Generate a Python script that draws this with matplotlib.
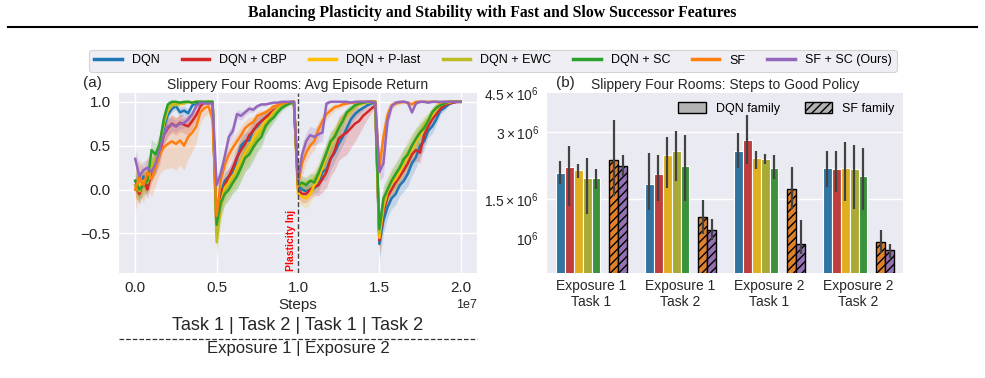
import numpy as np
import matplotlib
matplotlib.use("Agg")
import matplotlib.pyplot as plt
from matplotlib.lines import Line2D
from matplotlib.patches import Patch

plt.rcParams['font.family'] = ['Liberation Sans', 'DejaVu Sans']
plt.rcParams['mathtext.fontset'] = 'custom'
plt.rcParams['mathtext.rm'] = 'Liberation Sans'
plt.rcParams['mathtext.it'] = 'Liberation Sans:italic'
plt.rcParams['hatch.linewidth'] = 1.0

# ---- data ----
methods = ["DQN", "DQN + CBP", "DQN + P-last", "DQN + EWC", "DQN + SC", "SF", "SF + SC (Ours)"]
line_colors = ["#1f77b4", "#d62728", "#ffbf00", "#bcbd22", "#2ca02c", "#ff7f0e", "#9467bd"]
bar_colors = ["#3274a1", "#c03d3e", "#dfaf20", "#a9aa35", "#3a923a", "#e1812c", "#9372b2"]

# training steps (one sample every 0.25M steps)
steps = np.linspace(0, 2e7, 81)

# average episode return (mean over seeds)
ret_dqn = [0.10, 0.00, 0.15, 0.05, 0.25, 0.30, 0.45, 0.70, 0.85, 0.92, 0.95, 0.88, 0.90, 0.87, 0.96, 0.98, 1.00, 0.99, 0.99, 1.00,
           -0.45, -0.05, 0.10, 0.15, 0.20, 0.35, 0.50, 0.55, 0.56, 0.68, 0.72, 0.78, 0.82, 0.86, 0.90, 0.93, 0.95, 0.97, 0.99, 1.00,
           0.05, 0.00, -0.02, 0.00, 0.02, 0.05, 0.20, 0.23, 0.35, 0.42, 0.52, 0.60, 0.70, 0.80, 0.86, 0.90, 0.93, 0.96, 0.98, 0.99,
           -0.62, -0.35, -0.20, -0.10, -0.05, 0.05, 0.10, 0.18, 0.30, 0.37, 0.50, 0.55, 0.67, 0.72, 0.80, 0.90, 0.93, 0.97, 0.99, 1.00,
           1.00]
ret_cbp = [0.05, -0.05, 0.10, 0.00, 0.20, 0.30, 0.40, 0.62, 0.70, 0.75, 0.72, 0.76, 0.74, 0.72, 0.78, 0.85, 0.95, 0.99, 0.99, 0.99,
           -0.50, -0.10, 0.05, 0.15, 0.25, 0.37, 0.45, 0.52, 0.62, 0.67, 0.74, 0.78, 0.82, 0.86, 0.90, 0.93, 0.95, 0.98, 0.99, 1.00,
           0.00, -0.05, -0.05, 0.00, 0.03, 0.05, 0.12, 0.20, 0.35, 0.44, 0.58, 0.62, 0.65, 0.70, 0.75, 0.78, 0.84, 0.88, 0.92, 0.96,
           -0.58, -0.25, -0.08, 0.00, 0.08, 0.15, 0.22, 0.30, 0.40, 0.45, 0.42, 0.62, 0.72, 0.80, 0.86, 0.92, 0.96, 0.98, 0.99, 1.00,
           1.00]
ret_plast = [0.00, 0.05, 0.10, 0.08, 0.25, 0.35, 0.48, 0.75, 0.90, 0.96, 0.98, 0.97, 0.99, 1.00, 0.99, 1.00, 1.00, 0.99, 1.00, 1.00,
             -0.50, -0.15, 0.02, 0.08, 0.15, 0.25, 0.32, 0.42, 0.48, 0.58, 0.65, 0.70, 0.78, 0.82, 0.88, 0.93, 0.95, 0.97, 0.99, 1.00,
             -0.05, -0.08, -0.10, -0.05, 0.05, 0.12, 0.25, 0.40, 0.50, 0.62, 0.70, 0.78, 0.85, 0.90, 0.95, 0.97, 0.98, 0.99, 1.00, 1.00,
             -0.55, -0.20, -0.02, 0.08, 0.12, 0.20, 0.30, 0.38, 0.46, 0.55, 0.62, 0.70, 0.78, 0.85, 0.92, 0.96, 0.98, 0.99, 1.00, 1.00,
             1.00]
ret_ewc = [0.05, -0.02, 0.08, 0.10, 0.28, 0.35, 0.50, 0.78, 0.92, 0.97, 0.96, 0.99, 0.98, 1.00, 0.99, 1.00, 1.00, 0.99, 1.00, 0.99,
           -0.60, -0.20, -0.02, 0.05, 0.12, 0.20, 0.28, 0.38, 0.45, 0.52, 0.60, 0.66, 0.74, 0.80, 0.86, 0.92, 0.95, 0.97, 0.99, 0.99,
           0.05, 0.05, 0.08, 0.10, 0.12, 0.20, 0.30, 0.42, 0.52, 0.62, 0.70, 0.80, 0.86, 0.90, 0.95, 0.97, 0.99, 0.99, 1.00, 1.00,
           -0.50, -0.15, 0.00, 0.10, 0.15, 0.25, 0.32, 0.42, 0.50, 0.58, 0.66, 0.74, 0.80, 0.88, 0.94, 0.97, 0.98, 1.00, 1.00, 1.00,
           1.00]
ret_sc = [0.10, 0.00, 0.05, 0.10, 0.45, 0.40, 0.52, 0.80, 0.97, 1.00, 1.00, 0.99, 1.00, 1.00, 0.99, 1.00, 1.00, 1.00, 1.00, 1.00,
          -0.40, -0.15, -0.05, 0.00, 0.08, 0.15, 0.25, 0.36, 0.40, 0.48, 0.55, 0.60, 0.72, 0.78, 0.82, 0.88, 0.93, 0.96, 0.98, 0.99,
          0.05, 0.08, 0.05, 0.10, 0.08, 0.18, 0.30, 0.42, 0.55, 0.60, 0.70, 0.78, 0.88, 0.92, 0.96, 0.98, 0.99, 1.00, 1.00, 1.00,
          -0.45, -0.10, 0.00, 0.10, 0.18, 0.25, 0.35, 0.40, 0.50, 0.58, 0.65, 0.70, 0.78, 0.88, 0.93, 0.96, 0.98, 1.00, 1.00, 1.00,
          1.00]
ret_sf = [0.00, 0.15, 0.05, 0.20, 0.12, 0.25, 0.40, 0.48, 0.52, 0.55, 0.52, 0.56, 0.50, 0.60, 0.65, 0.72, 0.88, 0.93, 0.95, 0.80,
          -0.30, 0.10, 0.28, 0.40, 0.48, 0.55, 0.62, 0.70, 0.74, 0.77, 0.84, 0.86, 0.88, 0.91, 0.95, 0.96, 0.98, 0.99, 1.00, 1.00,
          0.05, 0.30, 0.42, 0.50, 0.55, 0.68, 0.78, 0.86, 0.90, 0.94, 0.95, 0.97, 0.98, 0.99, 0.99, 1.00, 1.00, 1.00, 1.00, 1.00,
          0.25, 0.60, 0.85, 0.96, 0.98, 0.99, 1.00, 0.99, 0.97, 1.00, 1.00, 1.00, 1.00, 1.00, 1.00, 0.99, 1.00, 1.00, 1.00, 1.00,
          1.00]
ret_sfsc = [0.35, 0.15, 0.22, 0.25, 0.20, 0.30, 0.45, 0.62, 0.72, 0.74, 0.72, 0.75, 0.76, 0.80, 0.86, 0.95, 0.99, 0.98, 0.98, 0.98,
            0.05, 0.18, 0.38, 0.60, 0.67, 0.86, 0.84, 0.88, 0.92, 0.91, 0.95, 0.97, 0.97, 0.98, 0.99, 0.99, 1.00, 1.00, 1.00, 1.00,
            0.10, 0.40, 0.55, 0.62, 0.60, 0.63, 0.65, 0.98, 1.00, 1.00, 1.00, 1.00, 1.00, 0.99, 1.00, 1.00, 1.00, 1.00, 1.00, 0.99,
            0.20, 0.30, 0.78, 0.95, 0.99, 1.00, 1.00, 0.99, 0.88, 0.98, 1.00, 1.00, 0.99, 1.00, 1.00, 1.00, 1.00, 1.00, 1.00, 1.00,
            1.00]

# spread over seeds
std_dqn = [0.12, 0.10, 0.12, 0.10, 0.12, 0.12, 0.10, 0.10, 0.06, 0.04, 0.04, 0.06, 0.05, 0.05, 0.03, 0.02, 0.01, 0.01, 0.01, 0.01,
           0.15, 0.12, 0.10, 0.10, 0.12, 0.12, 0.12, 0.10, 0.10, 0.10, 0.10, 0.08, 0.08, 0.06, 0.05, 0.04, 0.03, 0.02, 0.01, 0.01,
           0.08, 0.06, 0.06, 0.06, 0.06, 0.08, 0.10, 0.12, 0.12, 0.10, 0.10, 0.10, 0.08, 0.06, 0.05, 0.04, 0.03, 0.02, 0.01, 0.01,
           0.20, 0.15, 0.12, 0.12, 0.12, 0.12, 0.12, 0.14, 0.14, 0.12, 0.12, 0.10, 0.08, 0.08, 0.06, 0.05, 0.03, 0.02, 0.01, 0.01,
           0.01]
std_cbp = [0.12, 0.12, 0.10, 0.10, 0.12, 0.12, 0.12, 0.12, 0.10, 0.10, 0.10, 0.10, 0.10, 0.10, 0.08, 0.06, 0.03, 0.01, 0.01, 0.01,
           0.15, 0.12, 0.12, 0.10, 0.12, 0.12, 0.12, 0.12, 0.10, 0.10, 0.10, 0.08, 0.06, 0.05, 0.04, 0.03, 0.02, 0.02, 0.01, 0.01,
           0.10, 0.10, 0.10, 0.10, 0.10, 0.12, 0.15, 0.18, 0.20, 0.22, 0.25, 0.25, 0.25, 0.22, 0.20, 0.15, 0.12, 0.08, 0.05, 0.03,
           0.15, 0.12, 0.10, 0.10, 0.10, 0.12, 0.12, 0.12, 0.12, 0.12, 0.12, 0.10, 0.08, 0.06, 0.05, 0.04, 0.03, 0.02, 0.01, 0.01,
           0.01]
std_plast = [0.12, 0.12, 0.12, 0.10, 0.12, 0.12, 0.12, 0.10, 0.06, 0.03, 0.02, 0.02, 0.01, 0.01, 0.01, 0.01, 0.01, 0.01, 0.01, 0.01,
             0.18, 0.15, 0.15, 0.12, 0.15, 0.15, 0.15, 0.15, 0.15, 0.12, 0.12, 0.10, 0.10, 0.08, 0.06, 0.05, 0.03, 0.02, 0.01, 0.01,
             0.10, 0.10, 0.12, 0.10, 0.10, 0.10, 0.12, 0.12, 0.12, 0.12, 0.10, 0.08, 0.06, 0.05, 0.04, 0.03, 0.02, 0.01, 0.01, 0.01,
             0.18, 0.15, 0.12, 0.12, 0.12, 0.12, 0.12, 0.12, 0.12, 0.12, 0.10, 0.10, 0.08, 0.06, 0.05, 0.03, 0.02, 0.01, 0.01, 0.01,
             0.01]
std_ewc = [0.12, 0.15, 0.12, 0.12, 0.12, 0.12, 0.12, 0.10, 0.05, 0.03, 0.03, 0.02, 0.02, 0.01, 0.01, 0.01, 0.01, 0.01, 0.01, 0.01,
           0.20, 0.18, 0.15, 0.15, 0.15, 0.18, 0.18, 0.18, 0.18, 0.16, 0.15, 0.12, 0.10, 0.08, 0.06, 0.05, 0.04, 0.03, 0.02, 0.01,
           0.08, 0.08, 0.08, 0.08, 0.10, 0.10, 0.12, 0.12, 0.12, 0.10, 0.10, 0.08, 0.06, 0.05, 0.04, 0.03, 0.02, 0.01, 0.01, 0.01,
           0.18, 0.15, 0.15, 0.15, 0.15, 0.15, 0.15, 0.15, 0.14, 0.12, 0.12, 0.10, 0.08, 0.06, 0.05, 0.03, 0.02, 0.01, 0.01, 0.01,
           0.01]
std_sc = [0.12, 0.12, 0.12, 0.12, 0.12, 0.12, 0.12, 0.10, 0.04, 0.02, 0.01, 0.01, 0.01, 0.01, 0.01, 0.01, 0.01, 0.01, 0.01, 0.01,
          0.18, 0.15, 0.12, 0.12, 0.12, 0.15, 0.15, 0.15, 0.15, 0.15, 0.12, 0.12, 0.10, 0.08, 0.06, 0.05, 0.04, 0.03, 0.02, 0.01,
          0.08, 0.08, 0.08, 0.08, 0.10, 0.10, 0.12, 0.12, 0.12, 0.10, 0.10, 0.08, 0.06, 0.05, 0.04, 0.03, 0.02, 0.01, 0.01, 0.01,
          0.18, 0.15, 0.12, 0.12, 0.12, 0.12, 0.12, 0.12, 0.12, 0.12, 0.10, 0.10, 0.08, 0.06, 0.05, 0.03, 0.02, 0.01, 0.01, 0.01,
          0.01]
std_sf = [0.25, 0.20, 0.20, 0.18, 0.20, 0.20, 0.22, 0.25, 0.28, 0.30, 0.30, 0.28, 0.28, 0.25, 0.22, 0.18, 0.12, 0.10, 0.08, 0.12,
          0.15, 0.12, 0.10, 0.10, 0.10, 0.10, 0.10, 0.08, 0.08, 0.06, 0.05, 0.04, 0.03, 0.03, 0.02, 0.02, 0.01, 0.01, 0.01, 0.01,
          0.12, 0.15, 0.12, 0.10, 0.10, 0.10, 0.08, 0.06, 0.05, 0.04, 0.03, 0.03, 0.02, 0.02, 0.01, 0.01, 0.01, 0.01, 0.01, 0.01,
          0.15, 0.15, 0.10, 0.05, 0.03, 0.02, 0.02, 0.02, 0.03, 0.02, 0.01, 0.01, 0.01, 0.01, 0.01, 0.01, 0.01, 0.01, 0.01, 0.01,
          0.01]
std_sfsc = [0.12, 0.12, 0.10, 0.10, 0.10, 0.10, 0.10, 0.10, 0.10, 0.08, 0.06, 0.06, 0.06, 0.05, 0.04, 0.03, 0.02, 0.01, 0.01, 0.01,
            0.10, 0.10, 0.08, 0.08, 0.06, 0.05, 0.05, 0.04, 0.04, 0.03, 0.02, 0.02, 0.02, 0.01, 0.01, 0.01, 0.01, 0.01, 0.01, 0.01,
            0.08, 0.12, 0.10, 0.10, 0.10, 0.10, 0.10, 0.03, 0.01, 0.01, 0.01, 0.01, 0.01, 0.01, 0.01, 0.01, 0.01, 0.01, 0.01, 0.01,
            0.10, 0.15, 0.10, 0.04, 0.02, 0.01, 0.01, 0.01, 0.03, 0.01, 0.01, 0.01, 0.01, 0.01, 0.01, 0.01, 0.01, 0.01, 0.01, 0.01,
            0.01]

# steps to good policy, per task exposure (rows: method order above)
groups = ["Exposure 1\nTask 1", "Exposure 1\nTask 2", "Exposure 2\nTask 1", "Exposure 2\nTask 2"]
steps_mean = [[1.97e6, 1.75e6, 2.48e6, 2.07e6],
              [2.10e6, 1.95e6, 2.78e6, 2.05e6],
              [2.02e6, 2.36e6, 2.30e6, 2.07e6],
              [1.86e6, 2.48e6, 2.28e6, 2.05e6],
              [1.86e6, 2.12e6, 2.07e6, 1.91e6],
              [2.26e6, 1.25e6, 1.67e6, 0.96e6],
              [2.12e6, 1.09e6, 0.945e6, 0.885e6]]
steps_lo = [[1.75e6, 1.34e6, 2.07e6, 1.70e6],
            [1.40e6, 1.48e6, 2.17e6, 1.62e6],
            [1.87e6, 1.69e6, 2.05e6, 1.48e6],
            [1.29e6, 1.82e6, 2.16e6, 1.36e6],
            [1.67e6, 1.48e6, 1.85e6, 1.34e6],
            [1.55e6, 1.05e6, 1.35e6, 0.86e6],
            [1.90e6, 0.98e6, 0.85e6, 0.82e6]]
steps_hi = [[2.23e6, 2.42e6, 2.97e6, 2.48e6],
            [2.61e6, 2.36e6, 3.57e6, 2.48e6],
            [2.17e6, 2.85e6, 2.48e6, 2.70e6],
            [2.30e6, 3.03e6, 2.40e6, 2.63e6],
            [2.05e6, 2.92e6, 2.38e6, 2.54e6],
            [3.41e6, 1.49e6, 2.10e6, 1.09e6],
            [2.36e6, 1.22e6, 1.21e6, 0.945e6]]

returns = [ret_dqn, ret_cbp, ret_plast, ret_ewc, ret_sc, ret_sf, ret_sfsc]
spreads = [std_dqn, std_cbp, std_plast, std_ewc, std_sc, std_sf, std_sfsc]

# ---- figure ----
fig = plt.figure(figsize=(9.85, 3.78), dpi=100)
W, H = 985, 378

def fx(px):
    return px / W

def fy(py):
    return 1 - py / H

fig.text(0.5, fy(13), "Balancing Plasticity and Stability with Fast and Slow Successor Features",
         ha="center", va="center", fontsize=11.3, fontweight="bold", family="Liberation Serif")
fig.add_artist(Line2D([fx(8), fx(977)], [fy(27), fy(27)], color="black", lw=1.5))

bg = "#eaeaf2"
# (a) learning curves
ax1 = fig.add_axes([fx(119), fy(273), fx(477) - fx(119), fy(93) - fy(273)])
ax1.set_facecolor(bg)
for r, s, c, m in zip(returns, spreads, line_colors, methods):
    r = np.array(r)
    s = np.array(s)
    ax1.fill_between(steps, r - s, r + s, color=c, alpha=0.2, lw=0)
    ax1.plot(steps, r, color=c, lw=1.8, label=m)
ax1.axvline(1e7, color="#444444", ls="--", lw=1.0)
ax1.text(0.985e7, -0.93, "Plasticity Inj", rotation=90, color="red", fontweight="bold",
         fontsize=7.5, ha="right", va="bottom")
ax1.set_xlim(-0.1e7, 2.1e7)
ax1.set_ylim(-0.95, 1.1)
ax1.set_xticks([0, 0.5e7, 1e7, 1.5e7, 2e7])
ax1.set_yticks([-0.5, 0.0, 0.5, 1.0])
ax1.tick_params(labelsize=11, length=0, pad=6, colors="#262626")
ax1.xaxis.get_offset_text().set_fontsize(9)
ax1.grid(True, color="white", lw=1.0)
ax1.set_axisbelow(True)
for sp in ax1.spines.values():
    sp.set_visible(False)
ax1.set_xlabel("Steps", fontsize=11, labelpad=2, color="#262626")
ax1.set_title("Slippery Four Rooms: Avg Episode Return", fontsize=10, pad=3, color="#262626")

fig.text(fx(83), fy(83), "(a)", fontsize=11, ha="left", va="center", color="#262626")
fig.text(fx(298), fy(326), "Task 1 | Task 2 | Task 1 | Task 2", fontsize=13,
         ha="center", va="center", color="#262626")
fig.add_artist(Line2D([fx(119), fx(477)], [fy(339), fy(339)], color="#333333", lw=0.9, ls="--"))
fig.text(fx(298), fy(348), "Exposure 1 | Exposure 2", fontsize=12, ha="center", va="center", color="#262626")

# (b) steps to good policy
ax2 = fig.add_axes([fx(547), fy(273), fx(903) - fx(547), fy(93) - fy(273)])
ax2.set_facecolor(bg)
ax2.set_yscale("log")
slot_w = 0.1
slots = [0, 1, 2, 3, 4, 6, 7]
xg = np.arange(len(groups))
for i, (slot, c) in enumerate(zip(slots, bar_colors)):
    xpos = xg - 0.4 + slot_w / 2 + slot * slot_w
    means = np.array(steps_mean[i])
    lo = np.array(steps_lo[i])
    hi = np.array(steps_hi[i])
    if i >= 5:
        ax2.bar(xpos, means, width=slot_w, color=c, edgecolor="black", lw=1.0, hatch="////", zorder=2)
    else:
        ax2.bar(xpos, means, width=slot_w, color=c, edgecolor="white", lw=0.8, zorder=2)
    ax2.vlines(xpos, lo, hi, color="#424242", lw=1.6, zorder=3)
ax2.set_xlim(-0.5, 3.5)
ax2.set_ylim(0.7e6, 4.5e6)
ax2.set_yticks([1e6, 1.5e6, 3e6, 4.5e6])
ax2.set_yticks([], minor=True)
ax2.set_yticklabels([r"$10^6$", r"$1.5\times10^6$", r"$3\times10^6$", r"$4.5\times10^6$"])
ax2.set_xticks(xg)
ax2.set_xticklabels(groups)
ax2.tick_params(axis="x", labelsize=10, length=0, pad=4, colors="#262626")
ax2.tick_params(axis="y", labelsize=10, length=0, pad=6, colors="#262626")
for yv in [1.5e6, 3e6]:
    ax2.axhline(yv, color="white", lw=1.0, zorder=1)
for sp in ax2.spines.values():
    sp.set_visible(False)
ax2.set_title("Slippery Four Rooms: Steps to Good Policy", fontsize=10, pad=3, color="#262626")
fig.text(fx(556), fy(83), "(b)", fontsize=11, ha="left", va="center", color="#262626")
fam = [Patch(facecolor="#b3b3b3", edgecolor="black", lw=1.0, label="DQN family"),
       Patch(facecolor="#b3b3b3", edgecolor="black", lw=1.0, hatch="////", label="SF family")]
ax2.legend(handles=fam, loc="upper right", ncol=2, frameon=False, fontsize=9,
           handlelength=2.2, handleheight=1.0, columnspacing=2.0, borderaxespad=0.3)

# shared legend on top
handles = [Line2D([], [], color=c, lw=2.5) for c in line_colors]
leg = fig.legend(handles, methods, loc="center", bbox_to_anchor=(fx(493), fy(60.5)), ncol=7,
                 fontsize=9, frameon=True, facecolor=bg, edgecolor="#cccccc",
                 handlelength=2.2, handletextpad=0.8, columnspacing=1.75, borderpad=0.4)
leg.get_frame().set_linewidth(0.8)

fig.savefig("out.png", dpi=100)
